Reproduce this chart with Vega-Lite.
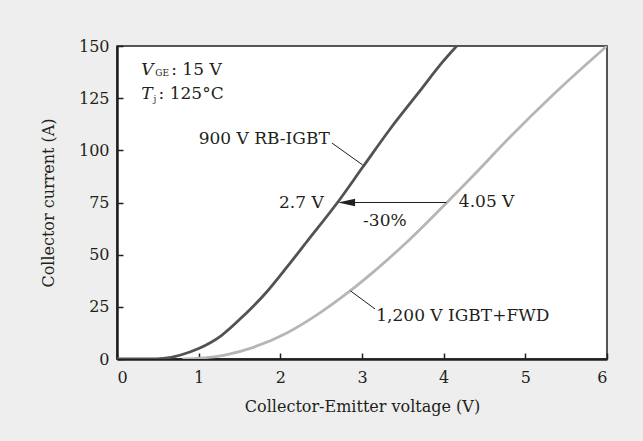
{
  "$schema": "https://vega.github.io/schema/vega-lite/v6.json",
  "width": 490,
  "height": 313,
  "autosize": {"type": "none"},
  "padding": {"left": 117, "top": 46, "right": 36, "bottom": 82},
  "background": "#edeeed",
  "config": {
    "view": {"stroke": "#231f20", "strokeWidth": 1.5, "fill": "#ffffff"},
    "font": "DejaVu Serif",
    "axis": {
      "grid": false,
      "zindex": 1,
      "domainColor": "#231f20",
      "domainWidth": 2.5,
      "tickColor": "#231f20",
      "tickWidth": 1.5,
      "labelFont": "DejaVu Serif",
      "labelFontSize": 16,
      "labelColor": "#231f20",
      "titleFont": "DejaVu Serif",
      "titleFontSize": 16,
      "titleFontWeight": "normal",
      "titleColor": "#231f20"
    },
    "text": {"font": "DejaVu Serif", "fontSize": 17, "color": "#231f20", "baseline": "alphabetic"}
  },
  "datasets": {
    "curves": [
      {"series": "900 V RB-IGBT", "v": 0.0, "i": 0},
      {"series": "900 V RB-IGBT", "v": 0.4, "i": 0},
      {"series": "900 V RB-IGBT", "v": 0.57, "i": 0.3},
      {"series": "900 V RB-IGBT", "v": 0.77, "i": 1.8},
      {"series": "900 V RB-IGBT", "v": 1.0, "i": 5},
      {"series": "900 V RB-IGBT", "v": 1.27, "i": 11},
      {"series": "900 V RB-IGBT", "v": 1.57, "i": 21.5},
      {"series": "900 V RB-IGBT", "v": 1.83, "i": 32},
      {"series": "900 V RB-IGBT", "v": 2.08, "i": 44},
      {"series": "900 V RB-IGBT", "v": 2.33, "i": 56.5},
      {"series": "900 V RB-IGBT", "v": 2.7, "i": 75},
      {"series": "900 V RB-IGBT", "v": 3.01, "i": 92},
      {"series": "900 V RB-IGBT", "v": 3.34, "i": 110},
      {"series": "900 V RB-IGBT", "v": 3.69, "i": 127.5},
      {"series": "900 V RB-IGBT", "v": 3.99, "i": 142.5},
      {"series": "900 V RB-IGBT", "v": 4.16, "i": 150},
      {"series": "1,200 V IGBT+FWD", "v": 0.8, "i": 0},
      {"series": "1,200 V IGBT+FWD", "v": 0.97, "i": 0.3},
      {"series": "1,200 V IGBT+FWD", "v": 1.32, "i": 1.9},
      {"series": "1,200 V IGBT+FWD", "v": 1.67, "i": 5.6},
      {"series": "1,200 V IGBT+FWD", "v": 2.08, "i": 12.5},
      {"series": "1,200 V IGBT+FWD", "v": 2.48, "i": 22},
      {"series": "1,200 V IGBT+FWD", "v": 2.83, "i": 31.9},
      {"series": "1,200 V IGBT+FWD", "v": 3.18, "i": 43.1},
      {"series": "1,200 V IGBT+FWD", "v": 3.59, "i": 57.5},
      {"series": "1,200 V IGBT+FWD", "v": 4.04, "i": 75},
      {"series": "1,200 V IGBT+FWD", "v": 4.34, "i": 87},
      {"series": "1,200 V IGBT+FWD", "v": 4.84, "i": 107.5},
      {"series": "1,200 V IGBT+FWD", "v": 5.35, "i": 127},
      {"series": "1,200 V IGBT+FWD", "v": 6.0, "i": 150}
    ],
    "leaders": [
      {"v": 2.632, "i": 103.5, "v2": 3.008, "i2": 93.0},
      {"v": 2.857, "i": 32.7, "v2": 3.159, "i2": 24.0},
      {"v": 4.034, "i": 75, "v2": 2.8, "i2": 75}
    ],
    "arrowhead": [{"v": 2.707, "i": 75}],
    "labelsLeft": [
      {"v": 4.186, "i": 72.7, "t": "4.05 V"},
      {"v": 3.175, "i": 18.4, "t": "1,200 V IGBT+FWD"},
      {"v": 0.664, "i": 136.2, "t": ": 15 V"},
      {"v": 0.509, "i": 124.6, "t": ": 125°C"}
    ],
    "labelsRight": [
      {"v": 2.605, "i": 103.0, "t": "900 V RB-IGBT"},
      {"v": 2.531, "i": 72.2, "t": "2.7 V"}
    ],
    "labelsCenter": [
      {"v": 3.28, "i": 63.9, "t": "-30%"}
    ],
    "italic": [
      {"v": 0.297, "i": 136.2, "t": "V"},
      {"v": 0.297, "i": 124.6, "t": "T"}
    ],
    "subs": [
      {"v": 0.468, "i": 135.4, "t": "GE"},
      {"v": 0.447, "i": 123.4, "t": "j"}
    ]
  },
  "layer": [
    {
      "data": {"name": "curves"},
      "mark": {"type": "line", "interpolate": "monotone", "strokeWidth": 2.8, "clip": true},
      "encoding": {
        "x": {"field": "v", "type": "quantitative", "scale": {"domain": [0, 6], "nice": false},
              "axis": {"values": [0, 1, 2, 3, 4, 5, 6], "format": "d", "tickSize": -6, "title": "Collector-Emitter voltage (V)", "labelPadding": 16, "titlePadding": 13}},
        "y": {"field": "i", "type": "quantitative", "scale": {"domain": [0, 150], "nice": false},
              "axis": {"values": [0, 25, 50, 75, 100, 125, 150], "format": "d", "tickSize": -6, "title": "Collector current (A)", "labelPadding": 14, "titlePadding": 22}},
        "color": {"field": "series", "type": "nominal",
                  "scale": {"domain": ["900 V RB-IGBT", "1,200 V IGBT+FWD"], "range": ["#525252", "#b6b6b6"]},
                  "legend": null}
      }
    },
    {
      "data": {"name": "leaders"},
      "mark": {"type": "rule", "color": "#231f20", "strokeWidth": 1},
      "encoding": {
        "x": {"field": "v", "type": "quantitative"},
        "y": {"field": "i", "type": "quantitative"},
        "x2": {"field": "v2"},
        "y2": {"field": "i2"}
      }
    },
    {
      "data": {"name": "arrowhead"},
      "mark": {"type": "point", "shape": "M 0 0 L 2 -0.45 L 2 0.45 Z", "filled": true, "color": "#231f20", "opacity": 1, "size": 289},
      "encoding": {
        "x": {"field": "v", "type": "quantitative"},
        "y": {"field": "i", "type": "quantitative"}
      }
    },
    {
      "data": {"name": "labelsLeft"},
      "mark": {"type": "text", "align": "left"},
      "encoding": {
        "x": {"field": "v", "type": "quantitative"},
        "y": {"field": "i", "type": "quantitative"},
        "text": {"field": "t"}
      }
    },
    {
      "data": {"name": "labelsRight"},
      "mark": {"type": "text", "align": "right"},
      "encoding": {
        "x": {"field": "v", "type": "quantitative"},
        "y": {"field": "i", "type": "quantitative"},
        "text": {"field": "t"}
      }
    },
    {
      "data": {"name": "labelsCenter"},
      "mark": {"type": "text", "align": "center"},
      "encoding": {
        "x": {"field": "v", "type": "quantitative"},
        "y": {"field": "i", "type": "quantitative"},
        "text": {"field": "t"}
      }
    },
    {
      "data": {"name": "italic"},
      "mark": {"type": "text", "align": "left", "fontStyle": "italic"},
      "encoding": {
        "x": {"field": "v", "type": "quantitative"},
        "y": {"field": "i", "type": "quantitative"},
        "text": {"field": "t"}
      }
    },
    {
      "data": {"name": "subs"},
      "mark": {"type": "text", "align": "left", "fontSize": 9},
      "encoding": {
        "x": {"field": "v", "type": "quantitative"},
        "y": {"field": "i", "type": "quantitative"},
        "text": {"field": "t"}
      }
    }
  ]
}
